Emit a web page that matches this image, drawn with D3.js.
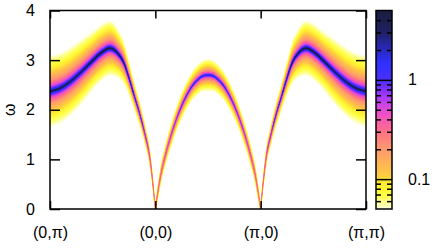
<!DOCTYPE html>
<html>
<head>
<meta charset="utf-8">
<script src="https://cdn.jsdelivr.net/npm/d3@7"></script>
<style>
body { margin: 0; background: #fff; }
svg { display: block; font-family: "Liberation Sans", Arial, sans-serif; }
</style>
</head>
<body>
<svg id="chart" width="435" height="248"></svg>
<script>
// position along the path (0,pi) -> (0,0) -> (pi,0) -> (pi,pi), one unit per leg
var kPath = [0, 0.1, 0.2, 0.3, 0.4, 0.5, 0.57, 0.65, 0.7, 0.75, 0.8, 0.85, 0.9, 0.95, 1.0,
	1.05, 1.1, 1.15, 1.2, 1.25, 1.3, 1.35, 1.4, 1.45, 1.5, 1.55, 1.6, 1.65, 1.7, 1.75, 1.8, 1.85, 1.9, 1.95, 2.0,
	2.05, 2.1, 2.15, 2.2, 2.25, 2.3, 2.35, 2.43, 2.5, 2.6, 2.7, 2.8, 2.9, 3.0];

// peak position of the band
var omegaPeak = [2.37, 2.44, 2.58, 2.77, 2.98, 3.17, 3.24, 3.12, 2.95, 2.64, 2.28, 1.93, 1.52, 1.0, 0.0,
	0.67, 1.12, 1.49, 1.81, 2.08, 2.30, 2.48, 2.60, 2.68, 2.70, 2.68, 2.60, 2.48, 2.30, 2.08, 1.81, 1.49, 1.12, 0.67, 0.0,
	1.0, 1.52, 1.93, 2.28, 2.64, 2.95, 3.12, 3.24, 3.17, 2.98, 2.77, 2.58, 2.44, 2.37];

// height of the peak (colour scale units)
var peakWeight = [4.5, 4.35, 4.2, 3.9, 5.2, 5.6, 5.4, 4.5, 3.8, 2.85, 1.95, 1.44, 0.97, 0.61, 0.35,
	0.48, 0.6, 0.76, 0.91, 1.1, 1.3, 1.5, 1.64, 1.8, 1.9, 1.8, 1.64, 1.5, 1.3, 1.1, 0.91, 0.76, 0.6, 0.48, 0.35,
	0.61, 0.97, 1.44, 1.95, 2.85, 3.8, 4.5, 5.4, 5.6, 5.2, 3.9, 4.2, 4.35, 4.5];

// core width of the peak
var peakWidth = [0.03, 0.03, 0.03, 0.03, 0.022, 0.02, 0.02, 0.02, 0.02, 0.02, 0.022, 0.025, 0.03, 0.04, 0.05,
	0.05, 0.045, 0.04, 0.036, 0.033, 0.03, 0.028, 0.027, 0.026, 0.026, 0.026, 0.027, 0.028, 0.03, 0.033, 0.036, 0.04, 0.045, 0.05, 0.05,
	0.04, 0.03, 0.025, 0.022, 0.02, 0.02, 0.02, 0.02, 0.02, 0.022, 0.03, 0.03, 0.03, 0.03];

var tailPower = 1.4;

var kTicks = [0, 1, 2, 3];
var kTickLabels = ["(0,π)", "(0,0)", "(π,0)", "(π,π)"];
var omegaTicks = [0, 1, 2, 3, 4];

var cbMajor = [0.1, 1];
var cbMinor = [0.06, 0.07, 0.08, 0.09, 0.2, 0.3, 0.4, 0.5, 0.6, 0.7, 0.8, 0.9, 2, 3, 4];

var paletteValues = [0.05, 0.055, 0.07, 0.09, 0.11, 0.15, 0.2, 0.3, 0.45, 0.6, 0.8, 1.0, 1.5, 2.0, 3.0, 5.0];
var paletteColors = ["#ffffe4", "#ffffa8", "#ffff40", "#ffec30", "#ffcc40", "#ffb058", "#ff9a70", "#ff7088",
	"#f050c8", "#c040f0", "#8030ff", "#4a30ff", "#3030ff", "#2828c0", "#202064", "#1c1c3c"];

var plotLeft = 50, plotRight = 366, plotTop = 10.5, plotBottom = 209;
var cbLeft = 376, cbRight = 392;
var cbMin = 0.05, cbMax = 5;

var svg = d3.select("#chart");

var x = d3.scaleLinear().domain([0, 3]).range([plotLeft, plotRight]);
var y = d3.scaleLinear().domain([0, 4]).range([plotBottom, plotTop]);
var cb = d3.scaleLog().domain([cbMin, cbMax]).range([plotBottom, plotTop]);
var color = d3.scaleLog().domain(paletteValues).range(paletteColors)
	.interpolate(d3.interpolateRgb).clamp(true);

svg.append("clipPath").attr("id", "plotclip")
	.append("rect")
	.attr("x", plotLeft).attr("y", plotTop)
	.attr("width", plotRight - plotLeft).attr("height", plotBottom - plotTop);

// Split into the three legs so the cusps stay sharp
var legs = [[], [], []];
kPath.forEach(function(k, i)
{
	if (k <= 1) legs[0].push(i);
	if (k >= 1 && k <= 2) legs[1].push(i);
	if (k >= 2) legs[2].push(i);
});

var area = d3.area()
	.x(function(d) { return x(d.k); })
	.y0(function(d) { return y(d.lo); })
	.y1(function(d) { return y(d.hi); })
	.curve(d3.curveMonotoneX);

// Nested bands, one per colour level, widest (faintest) first
var nLevels = 80;
var ratio = Math.pow(cbMax / cbMin, 1 / nLevels);
var levels = d3.range(nLevels).map(function(i) { return cbMin * Math.pow(ratio, i); });

var bands = svg.append("g").attr("clip-path", "url(#plotclip)");

levels.forEach(function(level)
{
	var path = "";
	legs.forEach(function(leg)
	{
		var pts = leg.map(function(i)
		{
			var d = 0;
			if (peakWeight[i] > level)
			{
				d = peakWidth[i] * (Math.pow(peakWeight[i] / level, 1 / tailPower) - 1);
			}
			return { k: kPath[i], lo: omegaPeak[i] - d, hi: omegaPeak[i] + d };
		});
		path += area(pts);
	});
	bands.append("path")
		.attr("d", path)
		.attr("fill", color(level * Math.sqrt(ratio)));
});

// Axes, ticks pointing inwards and mirrored
var styleAxis = function(g)
{
	g.select(".domain").remove();
	g.selectAll("line").attr("stroke", "#000").attr("stroke-width", 1.5);
	g.selectAll("text").attr("fill", "#000").attr("font-size", 16)
		.attr("font-family", "'Liberation Sans', Arial, sans-serif");
};

svg.append("g")
	.attr("transform", "translate(" + plotLeft + ",0)")
	.call(d3.axisLeft(y).tickValues(omegaTicks).tickSizeInner(-10).tickSizeOuter(0).tickPadding(15)
		.tickFormat(d3.format("d")))
	.call(styleAxis);

svg.append("g")
	.attr("transform", "translate(" + plotRight + ",0)")
	.call(d3.axisRight(y).tickValues(omegaTicks).tickSizeInner(-10).tickSizeOuter(0).tickFormat(""))
	.call(styleAxis);

svg.append("g")
	.attr("transform", "translate(0," + plotBottom + ")")
	.call(d3.axisBottom(x).tickValues(kTicks).tickSizeInner(-8).tickSizeOuter(0).tickPadding(18)
		.tickFormat(function(d, i) { return kTickLabels[i]; }))
	.call(styleAxis);

svg.append("g")
	.attr("transform", "translate(0," + plotTop + ")")
	.call(d3.axisTop(x).tickValues(kTicks).tickSizeInner(-8).tickSizeOuter(0).tickFormat(""))
	.call(styleAxis);

svg.append("rect")
	.attr("x", plotLeft).attr("y", plotTop)
	.attr("width", plotRight - plotLeft).attr("height", plotBottom - plotTop)
	.attr("fill", "none").attr("stroke", "#000").attr("stroke-width", 1.5);

svg.append("text")
	.attr("transform", "translate(15," + y(2) + ") rotate(-90)")
	.attr("text-anchor", "middle")
	.attr("font-size", 16)
	.text("ω");

// Colour box
var grad = svg.append("defs").append("linearGradient")
	.attr("id", "cbgrad")
	.attr("x1", 0).attr("y1", 1).attr("x2", 0).attr("y2", 0);

grad.selectAll("stop")
	.data(d3.range(0, 101))
	.enter().append("stop")
	.attr("offset", function(d) { return d + "%"; })
	.attr("stop-color", function(d) { return color(cbMin * Math.pow(cbMax / cbMin, d / 100)); });

svg.append("rect")
	.attr("x", cbLeft).attr("y", plotTop)
	.attr("width", cbRight - cbLeft).attr("height", plotBottom - plotTop)
	.attr("fill", "url(#cbgrad)");

svg.append("g")
	.attr("transform", "translate(" + cbRight + ",0)")
	.call(d3.axisRight(cb).tickValues(cbMajor).tickSizeInner(-(cbRight - cbLeft)).tickSizeOuter(0)
		.tickPadding(16).tickFormat(function(d) { return String(d); }))
	.call(styleAxis);

svg.append("g")
	.attr("transform", "translate(" + cbRight + ",0)")
	.call(d3.axisRight(cb).tickValues(cbMinor).tickSizeInner(-5).tickSizeOuter(0).tickFormat(""))
	.call(styleAxis);

svg.append("g")
	.attr("transform", "translate(" + cbLeft + ",0)")
	.call(d3.axisLeft(cb).tickValues(cbMinor).tickSizeInner(-5).tickSizeOuter(0).tickFormat(""))
	.call(styleAxis);

svg.append("rect")
	.attr("x", cbLeft).attr("y", plotTop)
	.attr("width", cbRight - cbLeft).attr("height", plotBottom - plotTop)
	.attr("fill", "none").attr("stroke", "#000").attr("stroke-width", 1.5);
</script>
</body>
</html>
